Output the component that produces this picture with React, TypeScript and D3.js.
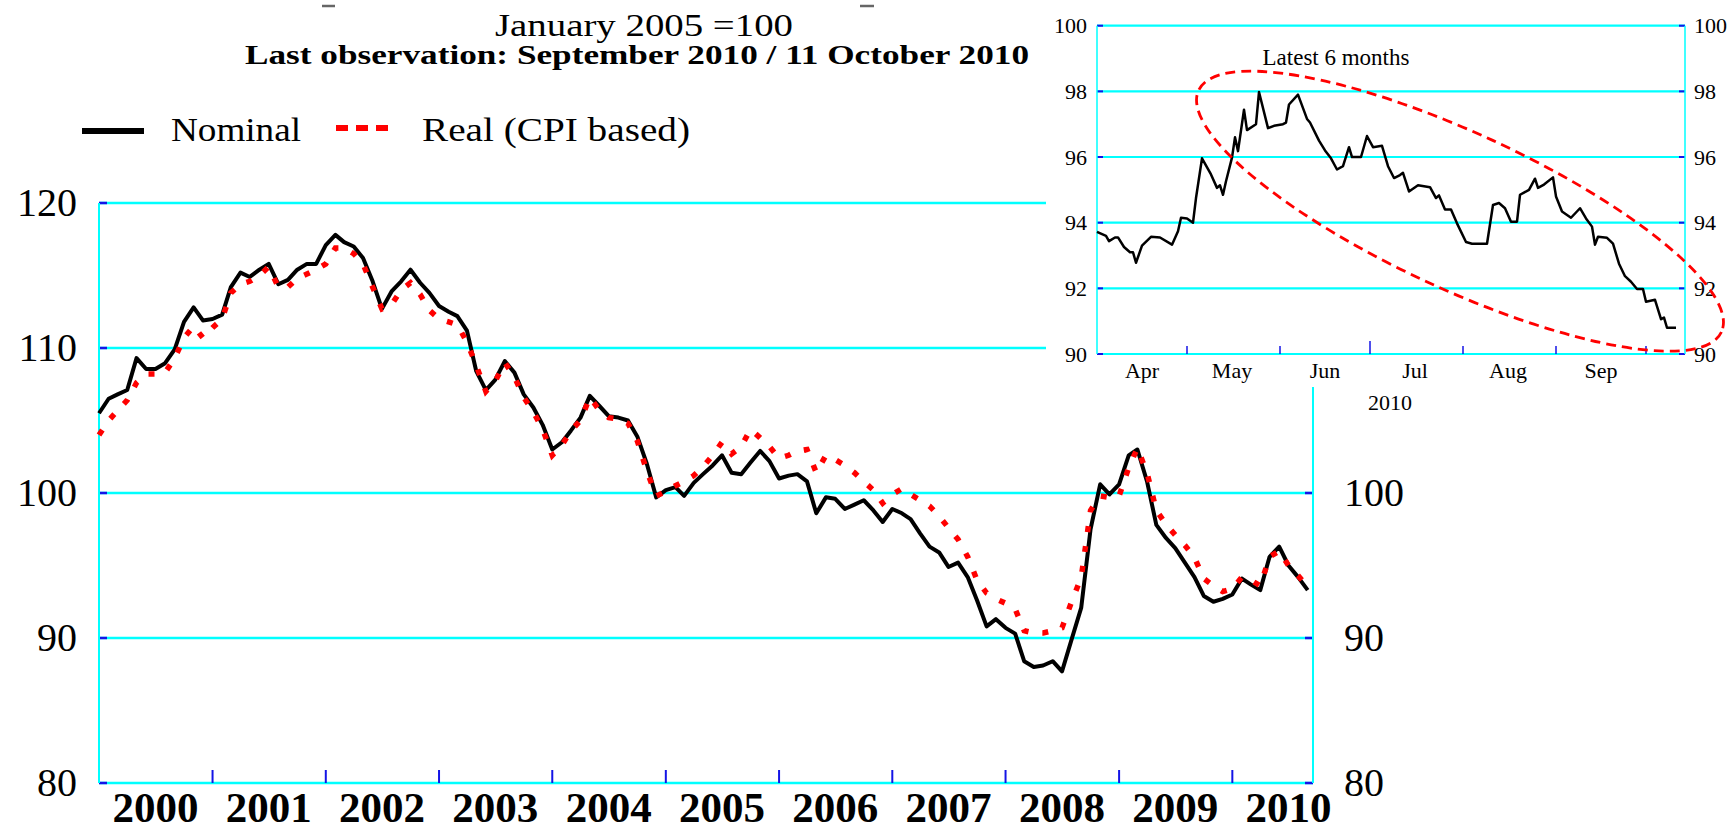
import React from 'react';
import * as d3 from 'd3';

// monthly index, January 2005 = 100, Jan 2000 .. Sep 2010
const nominal = [
  105.5, 106.5, 106.8, 107.1, 109.3, 108.55, 108.55, 108.95, 109.9, 111.8, 112.8, 111.9,
  112.0, 112.3, 114.2, 115.2, 114.9, 115.4, 115.8, 114.4, 114.7, 115.4, 115.8, 115.8,
  117.1, 117.8, 117.3, 117.0, 116.2, 114.6, 112.7, 113.9, 114.6, 115.4, 114.5, 113.8,
  112.9, 112.5, 112.2, 111.2, 108.4, 107.1, 107.8, 109.1, 108.3, 106.8, 105.9, 104.7,
  103.0, 103.5, 104.3, 105.2, 106.7, 106.0, 105.3, 105.2, 105.0, 103.9, 102.0, 99.7,
  100.2, 100.4, 99.8, 100.7, 101.3, 101.9, 102.6, 101.4, 101.3, 102.1, 102.9, 102.2,
  101.0, 101.2, 101.3, 100.8, 98.6, 99.7, 99.6, 98.9, 99.2, 99.5, 98.8, 98.0,
  98.9, 98.6, 98.2, 97.2, 96.3, 95.9, 94.9, 95.2, 94.2, 92.6, 90.8, 91.3,
  90.7, 90.3, 88.4, 88.0, 88.1, 88.4, 87.7, 89.9, 92.1, 97.5, 100.6, 99.9,
  100.6, 102.6, 103.0, 100.8, 97.8, 96.9, 96.2, 95.2, 94.2, 92.9, 92.5, 92.7,
  93.0, 94.1, 93.7, 93.3, 95.6, 96.3, 95.0, 94.2, 93.3,
];

const real = [
  104.0, 105.0, 105.7, 106.4, 107.6, 108.2, 108.2, 108.3, 109.3, 110.7, 111.5, 110.7,
  111.4, 112.0, 113.8, 114.4, 114.6, 115.0, 115.6, 114.2, 114.2, 114.8, 115.1, 115.4,
  115.8, 116.9, 116.9, 116.5, 115.8, 114.2, 112.7, 113.0, 114.0, 114.5, 113.7, 112.6,
  112.0, 111.8, 111.6, 110.4, 108.8, 107.0, 107.7, 109.0, 108.0, 106.6, 105.6, 104.4,
  102.6, 103.3, 104.3, 105.0, 106.6, 105.7, 105.2, 105.1, 104.8, 103.6, 101.5, 99.8,
  100.1, 100.5, 100.8, 101.2, 101.8, 102.6, 103.5, 102.7, 103.2, 104.4, 103.8, 103.2,
  102.4, 102.6, 102.9, 103.0, 101.4, 102.6, 102.3, 101.9, 101.4, 100.8, 100.2, 99.3,
  99.9, 100.3, 99.9, 99.5, 99.1, 98.4, 97.6, 96.8, 95.6, 94.0, 93.1, 92.7,
  92.4, 92.0, 90.5, 90.35, 90.35, 90.5, 90.7, 92.5, 94.2, 98.8, 99.8, 99.7,
  99.8, 101.75, 103.1, 101.4, 98.8, 97.85, 97.1, 96.4, 95.55, 94.1, 93.6, 93.2,
  93.4, 94.2, 94.0, 93.6, 95.6, 96.0, 95.0, 94.3, 93.5,
];

const years = [2000, 2001, 2002, 2003, 2004, 2005, 2006, 2007, 2008, 2009, 2010];
const mainTicks = [80, 90, 100, 110, 120];
const mainRightTicks = [80, 90, 100];

// inset: latest 6 months (2010)
const insetDates = [
  '04-01', '04-04', '04-05', '04-07', '04-08', '04-10', '04-12', '04-13', '04-14', '04-16',
  '04-19', '04-22', '04-26', '04-28', '04-29', '05-01', '05-03', '05-04', '05-06', '05-09',
  '05-11', '05-12', '05-13', '05-14', '05-16', '05-17', '05-18', '05-20', '05-21', '05-24',
  '05-25', '05-28', '05-30', '06-02', '06-03', '06-04', '06-07', '06-10', '06-11', '06-14',
  '06-16', '06-18', '06-20', '06-22', '06-24', '06-25', '06-28', '06-30', '07-02', '07-05',
  '07-07', '07-09', '07-11', '07-12', '07-14', '07-17', '07-21', '07-23', '07-24', '07-26',
  '07-28', '07-30', '08-02', '08-04', '08-09', '08-11', '08-13', '08-15', '08-17', '08-19',
  '08-20', '08-23', '08-25', '08-26', '08-28', '08-31', '09-01', '09-03', '09-06', '09-09',
  '09-11', '09-13', '09-14', '09-15', '09-18', '09-20', '09-22', '09-24', '09-26', '09-28',
  '09-30', '10-01', '10-04', '10-06', '10-07', '10-08', '10-11',
];
const insetValues = [
  93.72, 93.6, 93.44, 93.55, 93.55, 93.26, 93.1, 93.1, 92.78, 93.3,
  93.57, 93.55, 93.33, 93.74, 94.15, 94.13, 94.0, 94.75, 95.96, 95.47,
  95.06, 95.14, 94.85, 95.26, 95.98, 96.6, 96.18, 97.44, 96.82, 97.0,
  97.98, 96.88, 96.95, 97.0, 97.05, 97.6, 97.9, 97.16, 97.05, 96.5,
  96.2, 95.96, 95.62, 95.72, 96.3, 96.0, 96.0, 96.64, 96.3, 96.34,
  95.72, 95.36, 95.45, 95.52, 94.95, 95.14, 95.08, 94.75, 94.83, 94.4,
  94.4, 93.98, 93.41, 93.36, 93.36, 94.54, 94.6, 94.44, 94.03, 94.03,
  94.85, 95.0, 95.34, 95.06, 95.16, 95.38, 94.8, 94.34, 94.15, 94.44,
  94.13, 93.88, 93.33, 93.57, 93.54, 93.36, 92.75, 92.37, 92.2, 91.98,
  91.98, 91.59, 91.65, 91.06, 91.11, 90.8, 90.8,
];
const insetTicks = [90, 92, 94, 96, 98, 100];
const insetMonths = ['Apr', 'May', 'Jun', 'Jul', 'Aug', 'Sep'];

const CYAN = '#00FFFF';
const BLUE = '#1414E6';
const FONT = '"Liberation Serif", "Times New Roman", serif';

const App = () => {
  const x = d3
    .scaleTime()
    .domain([new Date(2000, 0, 1), new Date(2010, 8, 18)])
    .range([99, 1313]);
  const y = d3.scaleLinear().domain([80, 120]).range([783, 203]);

  const monthDate = (i: number) => new Date(2000, i, 1);
  const line = d3
    .line<number>()
    .x((_, i) => x(monthDate(i)))
    .y((d) => y(d));

  const xi = d3
    .scaleTime()
    .domain([new Date(2010, 3, 1), new Date(2010, 9, 14)])
    .range([1097, 1685]);
  const yi = d3.scaleLinear().domain([90, 100]).range([354, 25.7]);
  const parse = d3.timeParse('%Y-%m-%d');
  const insetData = insetDates.map((d, i) => ({ date: parse('2010-' + d) as Date, value: insetValues[i] }));
  const insetLine = d3
    .line<{ date: Date; value: number }>()
    .x((d) => xi(d.date))
    .y((d) => yi(d.value));

  const [x0, x1] = x.range();
  const [ix0, ix1] = xi.range();

  // annotation ellipse around the latest months
  const ecx = xi(new Date(2010, 6, 31));
  const ecy = yi(94.35);

  return (
    <svg
      width={1735}
      height={833}
      style={{ position: 'absolute', left: 0, top: 0, background: '#fff' }}
      fontFamily={FONT}
    >
      <rect width={1735} height={833} fill="#fff" />

      {/* remnants at top */}
      <line x1={322} x2={335} y1={6} y2={6} stroke="#666" strokeWidth={2.5} />
      <line x1={860} x2={874} y1={6} y2={6} stroke="#666" strokeWidth={2.5} />

      <text x={644} y={36} fontSize={31} textAnchor="middle" textLength={298} lengthAdjust="spacingAndGlyphs">
        January 2005 =100
      </text>
      <text
        x={637}
        y={64}
        fontSize={27}
        fontWeight="bold"
        textAnchor="middle"
        textLength={784}
        lengthAdjust="spacingAndGlyphs"
      >
        Last observation: September 2010 / 11 October 2010
      </text>

      {/* legend */}
      <line x1={82} x2={144} y1={131} y2={131} stroke="#000" strokeWidth={6} />
      <text x={171} y={141} fontSize={33} textLength={130} lengthAdjust="spacingAndGlyphs">
        Nominal
      </text>
      <line x1={336} x2={388} y1={128} y2={128} stroke="#f00" strokeWidth={6} strokeDasharray="12 8" />
      <text x={422} y={141} fontSize={33} textLength={268} lengthAdjust="spacingAndGlyphs">
        Real (CPI based)
      </text>

      {/* main chart grid */}
      {mainTicks.map((t) => (
        <g key={t}>
          <line x1={x0} x2={x1} y1={y(t)} y2={y(t)} stroke={CYAN} strokeWidth={2.5} />
          <line x1={x0} x2={x0 + 8} y1={y(t)} y2={y(t)} stroke={BLUE} strokeWidth={2.5} />
          <line x1={x1 - 8} x2={x1} y1={y(t)} y2={y(t)} stroke={BLUE} strokeWidth={2.5} />
          <text x={77} y={y(t) + 13} fontSize={40} textAnchor="end">
            {t}
          </text>
        </g>
      ))}
      <line x1={x0} x2={x0} y1={y(120)} y2={y(80)} stroke={CYAN} strokeWidth={2} />
      <line x1={x1} x2={x1} y1={y(120)} y2={y(80)} stroke={CYAN} strokeWidth={2} />
      {mainRightTicks.map((t) => (
        <text key={t} x={1344} y={y(t) + 13} fontSize={40}>
          {t}
        </text>
      ))}
      {years.slice(1).map((yr) => (
        <line
          key={yr}
          x1={x(new Date(yr, 0, 1))}
          x2={x(new Date(yr, 0, 1))}
          y1={y(80)}
          y2={y(80) - 13}
          stroke={BLUE}
          strokeWidth={2}
        />
      ))}
      {years.map((yr) => (
        <text key={yr} x={x(new Date(yr, 6, 1))} y={822} fontSize={43} fontWeight="bold" textAnchor="middle">
          {yr}
        </text>
      ))}

      <path d={line(nominal) || ''} fill="none" stroke="#000" strokeWidth={4} strokeLinejoin="round" />
      <path d={line(real) || ''} fill="none" stroke="#f00" strokeWidth={5.5} strokeDasharray="6 14" />

      {/* inset */}
      <rect x={1046} y={0} width={689} height={387} fill="#fff" />
      {insetTicks.map((t) => (
        <g key={t}>
          <line x1={ix0} x2={ix1} y1={yi(t)} y2={yi(t)} stroke={CYAN} strokeWidth={2.2} />
          <line x1={ix0} x2={ix0 + 6} y1={yi(t)} y2={yi(t)} stroke={BLUE} strokeWidth={2} />
          <line x1={ix1 - 6} x2={ix1} y1={yi(t)} y2={yi(t)} stroke={BLUE} strokeWidth={2} />
          <text x={1087} y={yi(t) + 7.5} fontSize={22} textAnchor="end">
            {t}
          </text>
          <text x={1694} y={yi(t) + 7.5} fontSize={22}>
            {t}
          </text>
        </g>
      ))}
      <line x1={ix0} x2={ix0} y1={yi(100)} y2={yi(90)} stroke={CYAN} strokeWidth={1.5} />
      <line x1={ix1} x2={ix1} y1={yi(100)} y2={yi(90)} stroke={CYAN} strokeWidth={1.5} />
      {[4, 5, 6, 7, 8, 9].map((m) => (
        <line
          key={m}
          x1={xi(new Date(2010, m, 1))}
          x2={xi(new Date(2010, m, 1))}
          y1={yi(90)}
          y2={yi(90) - (m === 6 ? 13 : 8)}
          stroke={BLUE}
          strokeWidth={1.5}
        />
      ))}
      {insetMonths.map((mo, i) => (
        <text key={mo} x={xi(new Date(2010, 3 + i, 16))} y={378} fontSize={22} textAnchor="middle">
          {mo}
        </text>
      ))}
      <text x={xi(new Date(2010, 6, 1)) + 20} y={410} fontSize={22} textAnchor="middle">
        2010
      </text>
      <text x={1336} y={65} fontSize={23} textAnchor="middle">
        Latest 6 months
      </text>

      <path d={insetLine(insetData) || ''} fill="none" stroke="#000" strokeWidth={2.5} strokeLinejoin="round" />

      <ellipse
        cx={ecx}
        cy={ecy}
        rx={288}
        ry={78}
        transform={`rotate(24.8 ${ecx} ${ecy})`}
        fill="none"
        stroke="#f00"
        strokeWidth={2.8}
        strokeDasharray="10 6"
      />
    </svg>
  );
};

export default App;
